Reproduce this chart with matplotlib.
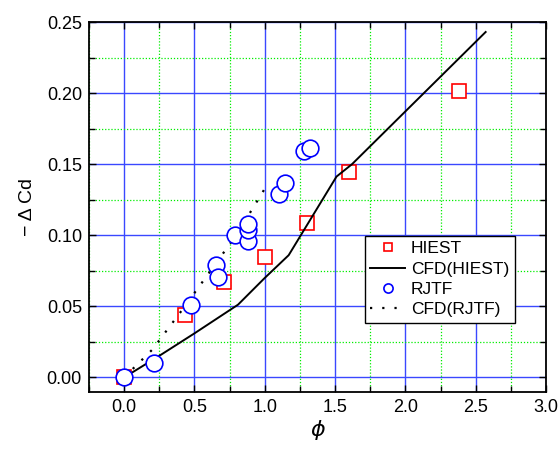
import matplotlib
matplotlib.use("Agg")
from matplotlib import pyplot as plt
import matplotlib.ticker as ticker

plt.rcParams['font.family'] = ['Liberation Sans', 'DejaVu Sans']

# %% --------------- DATA               ------------------------------------------------------------------------------ #
hiest_phi = [0.0, 0.43, 0.71, 1.00, 1.30, 1.60, 2.38]
hiest_dcd = [0.0, 0.0436, 0.0675, 0.0844, 0.1086, 0.1442, 0.2018]

cfd_hiest_phi = [0.0, 0.25, 0.50, 0.81, 1.00, 1.17, 1.51, 1.62, 2.57]
cfd_hiest_dcd = [0.0, 0.0152, 0.031, 0.0512, 0.070, 0.086, 0.1413, 0.150, 0.243]

rjtf_phi = [0.0, 0.21, 0.474, 0.657, 0.671, 0.792, 0.882, 0.882, 0.882, 1.102, 1.142, 1.277, 1.325]
rjtf_dcd = [0.0, 0.0103, 0.0509, 0.0793, 0.0706, 0.1004, 0.0961, 0.1039, 0.1081, 0.1292, 0.1367, 0.1595, 0.1616]

cfd_rjtf_phi = [0.0, 0.20, 0.40, 0.60, 0.80, 1.02]
cfd_rjtf_dcd = [0.0, 0.0195, 0.0458, 0.073, 0.1005, 0.136]


# %% --------------- PLOT                                         ---------------------------------------------------- #
fig = plt.figure(figsize=(5.59, 4.5), dpi=100)
ax_1 = fig.add_axes([0.159, 0.1296, 0.818, 0.8214])

ax_1.plot(hiest_phi, hiest_dcd, linestyle="none", marker="s", markersize=10.5,
          markerfacecolor="white", markeredgecolor="#ff0000", markeredgewidth=1.2,
          label="HIEST", zorder=3)
ax_1.plot(cfd_hiest_phi, cfd_hiest_dcd, color="black", linewidth=1.4,
          label="CFD(HIEST)", zorder=4)
ax_1.plot(rjtf_phi, rjtf_dcd, linestyle="none", marker="o", markersize=12,
          markerfacecolor="white", markeredgecolor="#0000ff", markeredgewidth=1.2,
          label="RJTF", zorder=6)
ax_1.plot(cfd_rjtf_phi, cfd_rjtf_dcd, color="black", linewidth=1.6,
          linestyle=(0, (1, 4.5)), label="CFD(RJTF)", zorder=5)

ax_1.set_xlim(-0.25, 3.0)
ax_1.set_ylim(-0.01, 0.25)

ax_1.xaxis.set_major_locator(ticker.MultipleLocator(0.5))
ax_1.xaxis.set_minor_locator(ticker.MultipleLocator(0.25))
ax_1.yaxis.set_major_locator(ticker.MultipleLocator(0.05))
ax_1.yaxis.set_minor_locator(ticker.MultipleLocator(0.025))
ax_1.xaxis.set_major_formatter(ticker.FormatStrFormatter('%0.1f'))
ax_1.yaxis.set_major_formatter(ticker.FormatStrFormatter('%0.2f'))

ax_1.grid(which="major", color="#3a48ff", linewidth=1.0, linestyle="-", zorder=0)
ax_1.grid(which="minor", color="#00ee00", linewidth=0.9, linestyle=(0, (1, 1.5)), zorder=0)
ax_1.set_axisbelow(True)

ax_1.tick_params(which="both", direction="in", top=True, right=True, width=1.0,
                 labelsize=13, pad=5)
ax_1.tick_params(which="major", length=5)
ax_1.tick_params(which="minor", length=4)
for spine in ax_1.spines.values():
    spine.set_linewidth(1.3)

ax_1.set_xlabel("ϕ", fontsize=16, family="DejaVu Sans", style="italic", labelpad=3)
ax_1.set_ylabel("− Δ Cd", fontsize=14, labelpad=8)

leg = ax_1.legend(loc="lower left", bbox_to_anchor=(0.604, 0.187), fontsize=12.5,
                  markerscale=0.55, handlelength=2.0, handletextpad=0.35,
                  labelspacing=0.3, borderpad=0.3, borderaxespad=0.0,
                  fancybox=False, framealpha=1.0, edgecolor="black")
leg.get_frame().set_linewidth(1.0)

fig.savefig("out.png", dpi=100)
